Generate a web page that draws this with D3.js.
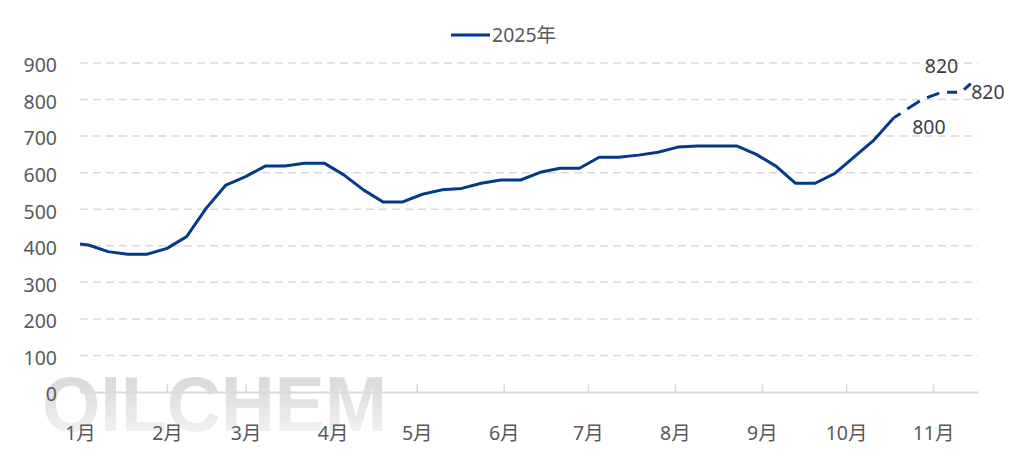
<!DOCTYPE html>
<html>
<head>
<meta charset="utf-8">
<script src="https://cdn.jsdelivr.net/npm/d3@7"></script>
<style>
  body { margin: 0; background: #fff; }
  text { font-family: "Noto Sans", "Noto Sans CJK SC", sans-serif; }
</style>
</head>
<body>
<div id="chart"></div>
<script>
// weekly price, 2025 (actual)
const actualDates = ["2025-01-01","2025-01-04","2025-01-11","2025-01-18","2025-01-25","2025-02-01","2025-02-08","2025-02-15","2025-02-22","2025-03-01","2025-03-08","2025-03-15","2025-03-22","2025-03-29","2025-04-05","2025-04-12","2025-04-19","2025-04-26","2025-05-03","2025-05-10","2025-05-17","2025-05-24","2025-05-31","2025-06-07","2025-06-14","2025-06-21","2025-06-28","2025-07-05","2025-07-12","2025-07-19","2025-07-26","2025-08-02","2025-08-09","2025-08-16","2025-08-23","2025-08-30","2025-09-06","2025-09-13","2025-09-20","2025-09-27","2025-10-04","2025-10-11","2025-10-18"];
const actualValues = [405,402,384,377,377,393,425,503,566,589,618,618,626,626,594,553,520,520,541,553,557,571,580,580,601,612,612,642,642,648,656,670,673,673,673,650,618,571,571,598,644,690,750];
// forecast part (dashed)
const forecastDates = ["2025-10-18","2025-10-28","2025-11-04","2025-11-11","2025-11-15","2025-11-17"];
const forecastValues = [750,800,820,820,848,848];
// data labels
const labelDates = ["2025-10-28","2025-11-04","2025-11-11"];
const labelTexts = ["800","820","820"];
const labelPos = ["below","above","right"];

const monthTicks = ["2025-01-01","2025-02-01","2025-03-01","2025-04-01","2025-05-01","2025-06-01","2025-07-01","2025-08-01","2025-09-01","2025-10-01","2025-11-01"];
const monthLabels = ["1月","2月","3月","4月","5月","6月","7月","8月","9月","10月","11月"];
const yTicks = [0,100,200,300,400,500,600,700,800,900];
const seriesName = "2025年";

const width = 1016, height = 467;
const margin = {top: 63, right: 38, bottom: 75, left: 80};
const parse = d3.timeParse("%Y-%m-%d");
const lineColor = "#043a8a";
const fontSize = "19.5px";

const svg = d3.select("#chart").append("svg")
    .attr("width", width)
    .attr("height", height);

const x = d3.scaleTime()
    .domain([parse("2025-01-01"), parse("2025-11-17")])
    .range([margin.left, width - margin.right]);

const y = d3.scaleLinear()
    .domain([0, 900])
    .range([height - margin.bottom, margin.top]);

// watermark
const defs = svg.append("defs");
const grad = defs.append("linearGradient")
    .attr("id", "wm").attr("x1", 0).attr("y1", 0).attr("x2", 0).attr("y2", 1);
grad.append("stop").attr("offset", "0%").attr("stop-color", "#cacaca");
grad.append("stop").attr("offset", "100%").attr("stop-color", "#f7f7f7");
svg.append("text")
    .attr("x", 42)
    .attr("y", 431)
    .attr("textLength", 345)
    .attr("lengthAdjust", "spacingAndGlyphs")
    .style("font-family", "'Liberation Sans', sans-serif")
    .style("font-weight", "bold")
    .style("font-size", "78px")
    .attr("fill", "url(#wm)")
    .attr("opacity", 0.85)
    .text("OILCHEM");

// grid
svg.append("g")
  .selectAll("line")
  .data(yTicks.filter(d => d > 0))
  .enter().append("line")
    .attr("x1", x.range()[0])
    .attr("x2", x.range()[1])
    .attr("y1", d => y(d))
    .attr("y2", d => y(d))
    .attr("stroke", "#d9d9d9")
    .attr("stroke-width", 1.5)
    .attr("stroke-dasharray", "8,5");

// y axis labels
const yAxis = svg.append("g")
    .attr("transform", "translate(" + (margin.left - 23) + ",0)")
    .call(d3.axisLeft(y).tickValues(yTicks).tickSize(0).tickPadding(0));
yAxis.select(".domain").remove();
yAxis.selectAll("text")
    .attr("dy", "0.45em")
    .attr("fill", "#595959")
    .style("font-size", fontSize);

// x axis
const xAxis = svg.append("g")
    .attr("transform", "translate(0," + y(0) + ")")
    .call(d3.axisBottom(x)
        .tickValues(monthTicks.map(parse))
        .tickFormat((d, i) => monthLabels[i])
        .tickSizeInner(-8)
        .tickSizeOuter(0)
        .tickPadding(34));
xAxis.select(".domain").attr("stroke", "#d9d9d9").attr("stroke-width", 2);
xAxis.selectAll(".tick line").attr("stroke", "#d9d9d9").attr("stroke-width", 1.5);
xAxis.selectAll("text")
    .attr("fill", "#595959")
    .style("font-size", fontSize);

const line = d3.line()
    .x(d => x(d[0]))
    .y(d => y(d[1]));

svg.append("path")
    .datum(actualDates.map((d, i) => [parse(d), actualValues[i]]))
    .attr("fill", "none")
    .attr("stroke", lineColor)
    .attr("stroke-width", 3)
    .attr("stroke-linejoin", "round")
    .attr("d", line);

svg.append("path")
    .datum(forecastDates.map((d, i) => [parse(d), forecastValues[i]]))
    .attr("fill", "none")
    .attr("stroke", lineColor)
    .attr("stroke-width", 3)
    .attr("stroke-dasharray", "8,8,15,8,13,8,10,8,9,8")
    .attr("d", line);

// data labels
const fIndex = d => forecastDates.indexOf(d);
svg.append("g")
  .selectAll("text")
  .data(labelDates)
  .enter().append("text")
    .attr("x", (d, i) => {
        const px = x(parse(d));
        if (labelPos[i] === "right") return px + 10;
        if (labelPos[i] === "below") return px + 7;
        return px;
    })
    .attr("y", (d, i) => {
        const py = y(forecastValues[fIndex(d)]);
        if (labelPos[i] === "below") return py + 28;
        if (labelPos[i] === "above") return py - 26;
        return py;
    })
    .attr("dy", "0.35em")
    .attr("text-anchor", (d, i) => labelPos[i] === "right" ? "start" : "middle")
    .attr("fill", "#404040")
    .style("font-size", fontSize)
    .text((d, i) => labelTexts[i]);

// legend
const lg = svg.append("g").attr("transform", "translate(451,35)");
lg.append("line")
    .attr("x1", 0).attr("x2", 39)
    .attr("stroke", lineColor)
    .attr("stroke-width", 3);
lg.append("text")
    .attr("x", 41)
    .attr("dy", "0.35em")
    .attr("fill", "#595959")
    .style("font-size", fontSize)
    .text(seriesName);
</script>
</body>
</html>
